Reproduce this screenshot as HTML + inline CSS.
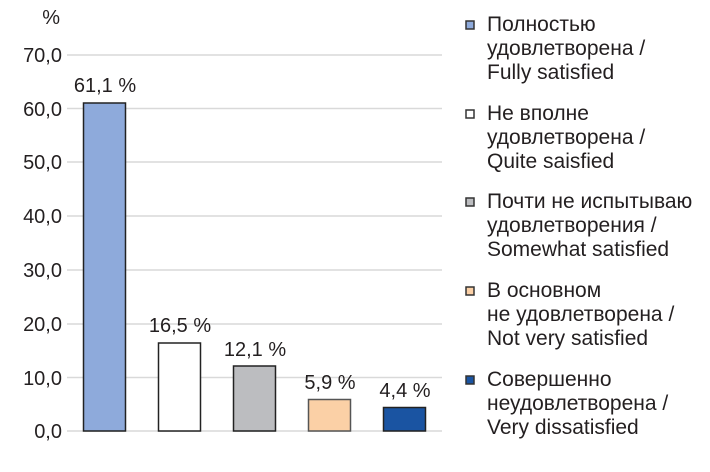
<!DOCTYPE html>
<html><head><meta charset="utf-8"><style>body{margin:0;background:#fff}</style></head><body>
<svg width="710" height="467" xmlns="http://www.w3.org/2000/svg" font-family="'Liberation Sans','DejaVu Sans',sans-serif" fill="#231f20">
<g stroke="#d9d9d9" stroke-width="1.5">
<line x1="67" x2="442" y1="55" y2="55"/><line x1="67" x2="442" y1="108.5" y2="108.5"/><line x1="67" x2="442" y1="162" y2="162"/><line x1="67" x2="442" y1="216" y2="216"/><line x1="67" x2="442" y1="270" y2="270"/><line x1="67" x2="442" y1="324" y2="324"/><line x1="67" x2="442" y1="377.5" y2="377.5"/><line x1="67" x2="442" y1="431" y2="431"/>
</g>
<g font-size="20" text-anchor="end">
<text x="60" y="24">%</text>
<text x="62" y="62">70,0</text><text x="62" y="116">60,0</text><text x="62" y="169">50,0</text><text x="62" y="223">40,0</text><text x="62" y="277">30,0</text><text x="62" y="331">20,0</text><text x="62" y="385">10,0</text><text x="62" y="438">0,0</text>
</g>
<g stroke="#222" stroke-width="1.5">
<rect x="83.5" y="103" width="42" height="328" fill="#8eaadb"/>
<rect x="158.5" y="343" width="42" height="88" fill="#fff"/>
<rect x="233.5" y="366" width="42" height="65" fill="#bcbdc0"/>
<rect x="308.5" y="399.5" width="42" height="31.5" fill="#fbd0a6" stroke="#555"/>
<rect x="383.5" y="407.5" width="42" height="23.5" fill="#1a54a2"/>
</g>
<g font-size="20" text-anchor="middle">
<text x="105" y="92">61,1 %</text><text x="180" y="332">16,5 %</text><text x="255" y="356">12,1 %</text><text x="330" y="389">5,9 %</text><text x="405" y="397">4,4 %</text>
</g>
<g stroke="#333" stroke-width="1.5">
<rect x="466" y="21" width="8" height="8" fill="#8eaadb"/>
<rect x="466" y="110" width="8" height="8" fill="#fff"/>
<rect x="466" y="198" width="8" height="8" fill="#bcbdc0"/>
<rect x="466" y="287" width="8" height="8" fill="#fbd0a6"/>
<rect x="466" y="376" width="8" height="8" fill="#1a54a2"/>
</g>
<g font-size="21">
<text x="487" y="31">Полностью</text><text x="487" y="55">удовлетворена /</text><text x="487" y="79">Fully satisfied</text>
<text x="487" y="120">Не вполне</text><text x="487" y="144">удовлетворена /</text><text x="487" y="168">Quite saisfied</text>
<text x="487" y="208">Почти не испытываю</text><text x="487" y="232">удовлетворения /</text><text x="487" y="256">Somewhat satisfied</text>
<text x="487" y="297">В основном</text><text x="487" y="321">не удовлетворена /</text><text x="487" y="345">Not very satisfied</text>
<text x="487" y="386">Совершенно</text><text x="487" y="410">неудовлетворена /</text><text x="487" y="434">Very dissatisfied</text>
</g>
</svg>
</body></html>
